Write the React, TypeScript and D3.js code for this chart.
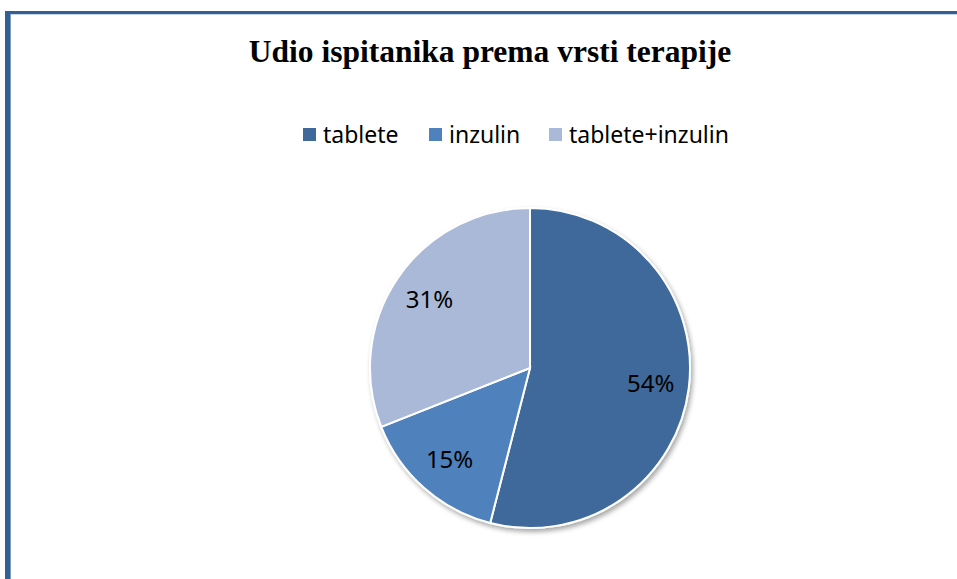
import React from "react";
import * as d3 from "d3";

const title = "Udio ispitanika prema vrsti terapije";
const categories = ["tablete", "inzulin", "tablete+inzulin"];
const values = [54, 15, 31];
const colors = ["#3F699B", "#4F81BD", "#AAB9D7"];

const W = 957;
const H = 579;

export default function App() {
  const cx = 530;
  const cy = 368;
  const r = 160;
  const pie = d3.pie<number>().sort(null).value((d) => d);
  const arcs = pie(values);
  const arc = d3.arc<d3.PieArcDatum<number>>().innerRadius(0).outerRadius(r);
  const labelArc = d3
    .arc<d3.PieArcDatum<number>>()
    .innerRadius(r * 0.76)
    .outerRadius(r * 0.76);
  const total = d3.sum(values);

  const legendX = [303, 429, 549];
  const legendY = 142;

  return (
    <svg
      width={W}
      height={H}
      style={{ position: "absolute", left: 0, top: 0, background: "#fff" }}
    >
      <defs>
        <filter id="shadow" x="-20%" y="-20%" width="140%" height="140%">
          <feGaussianBlur in="SourceAlpha" stdDeviation="2.5" />
          <feOffset dx="1.5" dy="2.5" result="off" />
          <feComponentTransfer>
            <feFuncA type="linear" slope="0.35" />
          </feComponentTransfer>
          <feMerge>
            <feMergeNode />
            <feMergeNode in="SourceGraphic" />
          </feMerge>
        </filter>
      </defs>
      <rect x={0} y={0} width={W} height={H} fill="#fff" />
      <rect x={5} y={11} width={W} height={3} fill="#355F93" />
      <rect x={5} y={14} width={W} height={1} fill="#C9D5E6" />
      <rect x={5} y={11} width={5} height={H} fill="#355F93" />
      <rect x={10} y={14} width={1} height={H} fill="#7F9CC4" />

      <text
        x={490}
        y={62}
        textAnchor="middle"
        fontFamily="'Liberation Serif', 'Times New Roman', serif"
        fontWeight="bold"
        fontSize={31.5}
        fill="#000"
      >
        {title}
      </text>

      {categories.map((c, i) => (
        <g key={c}>
          <rect
            x={legendX[i]}
            y={legendY - 14}
            width={13}
            height={13}
            fill={colors[i]}
          />
          <text
            x={legendX[i] + 20}
            y={legendY + 1}
            fontFamily="'Noto Sans', sans-serif"
            fontSize={23}
            fill="#000"
          >
            {c}
          </text>
        </g>
      ))}

      <g transform={`translate(${cx},${cy})`}>
        <g filter="url(#shadow)">
          {arcs.map((a, i) => (
            <path
              key={i}
              d={arc(a) || ""}
              fill={colors[i]}
              stroke="#fff"
              strokeWidth={2}
            />
          ))}
        </g>
        {arcs.map((a, i) => {
          const [lx, ly] = labelArc.centroid(a);
          return (
            <text
              key={"l" + i}
              x={lx}
              y={ly}
              dy="0.36em"
              textAnchor="middle"
              fontFamily="'Noto Sans', sans-serif"
              fontSize={24}
              fill="#000"
            >
              {Math.round((values[i] / total) * 100)}%
            </text>
          );
        })}
      </g>
    </svg>
  );
}
